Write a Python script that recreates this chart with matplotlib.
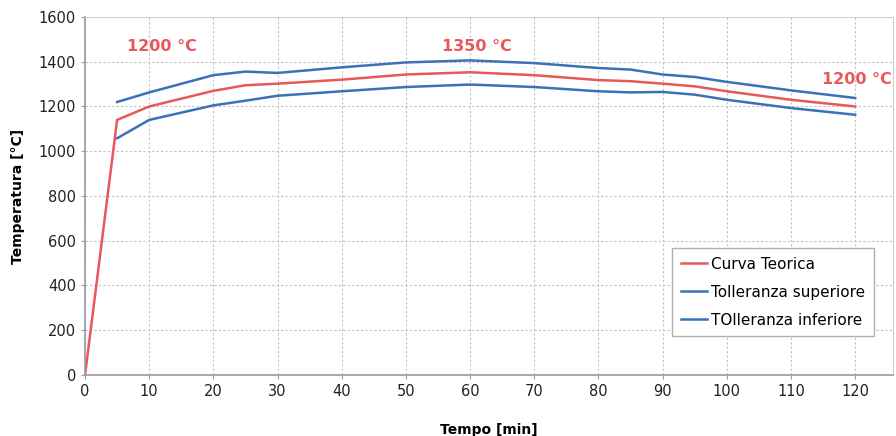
import numpy as np
import matplotlib.pyplot as plt

# data
tempo_teorica = [0, 5, 10, 20, 25, 30, 40, 50, 60, 70, 80, 85, 90, 95, 100, 110, 120]
curva_teorica = [0, 1140, 1200, 1270, 1295, 1302, 1320, 1343, 1353, 1340, 1318, 1313, 1302, 1290, 1268, 1230, 1200]

tempo_toll = [5, 10, 20, 25, 30, 40, 50, 60, 70, 80, 85, 90, 95, 100, 110, 120]
toll_superiore = [1220, 1263, 1340, 1356, 1350, 1375, 1397, 1406, 1394, 1372, 1365, 1343, 1332, 1310, 1272, 1238]
toll_inferiore = [1058, 1140, 1205, 1226, 1248, 1268, 1287, 1298, 1287, 1268, 1263, 1265, 1253, 1230, 1193, 1163]

etichette = ["1200 °C", "1350 °C", "1200 °C"]
etichette_x = [12, 61, 120.3]
etichette_y = [1470, 1470, 1320]

red = "#E8585B"
blue = "#3C70B8"

fig = plt.figure(figsize=(8.96, 4.36), dpi=100)
ax = fig.add_axes([0.0949, 0.140, 0.9018, 0.821])

p1 = ax.plot(tempo_teorica, curva_teorica, color=red, lw=1.8)
p2 = ax.plot(tempo_toll, toll_superiore, color=blue, lw=1.8)
p3 = ax.plot(tempo_toll, toll_inferiore, color=blue, lw=1.8)

for t, x, y in zip(etichette, etichette_x, etichette_y):
    ax.text(x, y, t, color=red, fontsize=11.5, fontweight="bold", ha="center", va="center", clip_on=False)

ax.set_xlim(0, 125.9)
ax.set_ylim(0, 1600)
ax.set_xticks(np.arange(0, 121, 10))
ax.set_yticks(np.arange(0, 1601, 200))
ax.grid(True, color="#c0c0c8", linestyle=(0, (2, 2)), lw=0.8)
ax.set_axisbelow(True)

for s in ["top", "right"]:
    ax.spines[s].set_color("#d0d0d0")
for s in ["left", "bottom"]:
    ax.spines[s].set_color("#9a9aa2")
    ax.spines[s].set_linewidth(1.2)

ax.tick_params(axis="both", labelsize=10.5, colors="#222222", length=3)
ax.tick_params(axis="both", color="#9a9aa2")

ax.set_ylabel("Temperatura [°C]", fontsize=10, fontweight="bold", labelpad=10)
ax.set_xlabel("Tempo [min]", fontsize=10, fontweight="bold", labelpad=17)

leg = ax.legend([p1[0], p2[0], p3[0]],
                ["Curva Teorica", "Tolleranza superiore", "TOlleranza inferiore"],
                loc="lower right", bbox_to_anchor=(0.976, 0.109), fontsize=11,
                fancybox=False, edgecolor="#b0b0b0", framealpha=1,
                handlelength=1.7, handletextpad=0.3, borderpad=0.55, labelspacing=0.85,
                borderaxespad=0)
leg.get_frame().set_linewidth(1.0)

fig.savefig("out.png", dpi=100)
